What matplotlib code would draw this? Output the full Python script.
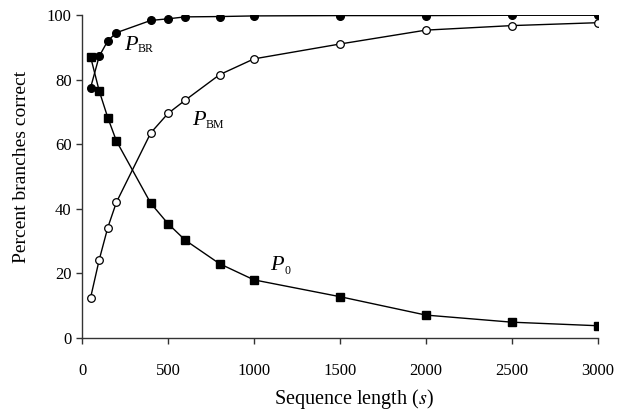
import matplotlib
matplotlib.use("Agg")
import matplotlib.pyplot as plt

plt.rcParams['font.family'] = ['Liberation Serif', 'DejaVu Serif']
plt.rcParams['mathtext.fontset'] = 'stix'

# sequence length s
seq_len = [50, 100, 150, 200, 400, 500, 600, 800, 1000, 1500, 2000, 2500, 3000]

# percent branches correct
p_br = [77.5, 87.2, 92.0, 94.5, 98.3, 98.8, 99.4, 99.5, 99.7, 99.8, 99.8, 99.9, 99.9]
p_bm = [12.5, 24.2, 34.2, 42.0, 63.5, 69.5, 73.6, 81.5, 86.4, 91.0, 95.3, 96.7, 97.6]
p_0 = [87.0, 76.5, 68.2, 61.0, 41.7, 35.4, 30.3, 23.0, 18.0, 12.8, 7.1, 4.9, 3.8]

# curve labels: (subscript, P position, subscript position)
labels = [
    ('BR', (244, 89.2), (325, 88.4)),
    ('BM', (640, 66.0), (721, 65.1)),
    ('0', (1093, 21.1), (1180, 19.9)),
]


def main():
    fig = plt.figure(figsize=(6.26, 4.15), dpi=100)
    ax = fig.add_axes([0.131, 0.1855, 0.824, 0.7785])

    ax.plot(seq_len, p_br, color='black', linewidth=1, marker='o',
            markersize=5.5, markerfacecolor='black', markeredgecolor='black')
    ax.plot(seq_len, p_bm, color='black', linewidth=1, marker='o',
            markersize=5.5, markerfacecolor='white', markeredgecolor='black',
            markeredgewidth=0.9)
    ax.plot(seq_len, p_0, color='black', linewidth=1, marker='s',
            markersize=6, markerfacecolor='black', markeredgecolor='black')

    for sub, (px, py), (sx, sy) in labels:
        ax.text(px, py, 'P', fontsize=16, style='italic',
                ha='left', va='baseline')
        ax.text(sx, sy, sub, fontsize=8.5, ha='left', va='baseline')

    ax.set_xlim(0, 3000)
    ax.set_ylim(0, 100)
    ax.set_xticks([0, 500, 1000, 1500, 2000, 2500, 3000])
    ax.set_yticks([0, 20, 40, 60, 80, 100])

    for side in ['top', 'right']:
        ax.spines[side].set_visible(False)
    for side in ['left', 'bottom']:
        ax.spines[side].set_color('#333333')
        ax.spines[side].set_linewidth(1)

    ax.tick_params(axis='both', direction='out', length=4, width=1,
                   labelsize=12, colors='#333333', labelcolor='black')
    ax.tick_params(axis='x', pad=14)

    ax.set_xlabel('Sequence length ($s$)', fontsize=14.5)
    ax.set_ylabel('Percent branches correct', fontsize=14)
    ax.xaxis.set_label_coords(0.527, -0.152)
    ax.yaxis.set_label_coords(-0.1, 0.531)

    fig.savefig('out.png', dpi=100)


if __name__ == "__main__":
    main()
